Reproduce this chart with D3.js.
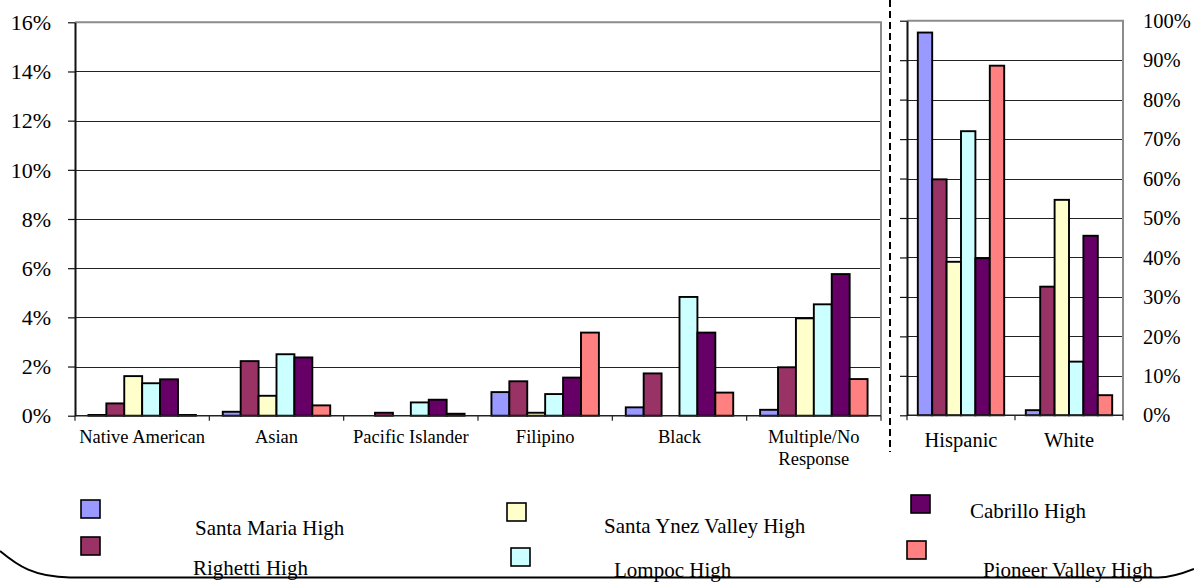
<!DOCTYPE html>
<html>
<head>
<meta charset="utf-8">
<script src="https://cdn.jsdelivr.net/npm/d3@7"></script>
<style>
  html, body { margin: 0; padding: 0; background: #fff; }
  svg { display: block; }
</style>
</head>
<body>
<svg id="chart" width="1194" height="583" font-family="Liberation Serif"></svg>
<script>
// Ethnic make-up of each high school, in percent of enrolment
const minorGroups = ["Native American", "Asian", "Pacific Islander", "Filipino", "Black", "Multiple/No Response"];
const majorGroups = ["Hispanic", "White"];
const schools = ["Santa Maria High", "Righetti High", "Santa Ynez Valley High", "Lompoc High", "Cabrillo High", "Pioneer Valley High"];
const schoolColors = ["#9999FF", "#993366", "#FFFFCC", "#CCFFFF", "#660066", "#FF8080"];

// values per school: six minor groups followed by Hispanic and White
const santaMaria   = [0.03, 0.16, 0,    0.96, 0.34, 0.24, 97.0, 1.3];
const righetti     = [0.50, 2.22, 0.12, 1.40, 1.72, 1.97, 59.8, 32.6];
const santaYnez    = [1.61, 0.81, 0,    0.12, 0,    3.96, 38.9, 54.6];
const lompoc       = [1.32, 2.50, 0.54, 0.88, 4.83, 4.53, 72.0, 13.6];
const cabrillo     = [1.48, 2.37, 0.65, 1.55, 3.38, 5.76, 39.8, 45.5];
const pioneerValley= [0.03, 0.42, 0.08, 3.38, 0.94, 1.49, 88.6, 5.1];

const leftTicks = [0, 2, 4, 6, 8, 10, 12, 14, 16];
const rightTicks = [0, 10, 20, 30, 40, 50, 60, 70, 80, 90, 100];

const seriesValues = [santaMaria, righetti, santaYnez, lompoc, cabrillo, pioneerValley];

const FONT = "Liberation Serif";
const svg = d3.select("#chart");
const pct = d => d + "%";

// Draws one clustered-bar panel
function panel(opts) {
  const { categories, values, yMax, ticks, x0, x1, yTop, yBottom } = opts;
  const g = svg.append("g");
  const x = d3.scaleBand().domain(categories).range([x0, x1]).padding(0);
  const bw = x.bandwidth();
  const gap = bw * 0.75 / 7.5;             // half of a 150% gap on each side
  const xs = d3.scaleBand().domain(d3.range(schools.length)).range([gap, bw - gap]).padding(0);
  const y = d3.scaleLinear().domain([0, yMax]).range([yBottom, yTop]);

  // gridlines
  g.append("g").selectAll("line").data(ticks.filter(t => t > 0 && t < yMax)).join("line")
    .attr("x1", x0).attr("x2", x1)
    .attr("y1", d => Math.round(y(d)) + 0.5).attr("y2", d => Math.round(y(d)) + 0.5)
    .attr("stroke", "#222").attr("stroke-width", 1);

  // plot frame top / right
  g.append("path")
    .attr("d", `M${x0},${y(yMax)}H${x1}V${yBottom}`)
    .attr("fill", "none").attr("stroke", "#8c8c8c").attr("stroke-width", 2);

  // bars
  const rows = [];
  categories.forEach((c, ci) => {
    schools.forEach((s, si) => {
      rows.push({ c, si, v: values[si][ci] });
    });
  });
  g.append("g").selectAll("rect").data(rows.filter(r => r.v > 0)).join("rect")
    .attr("x", r => x(r.c) + xs(r.si))
    .attr("width", xs.bandwidth())
    .attr("y", r => y(r.v))
    .attr("height", r => yBottom - y(r.v))
    .attr("fill", r => schoolColors[r.si])
    .attr("stroke", "#000").attr("stroke-width", 1.9);

  // category axis
  const ax = g.append("g").attr("transform", `translate(0,${yBottom})`);
  ax.append("line").attr("x1", x0).attr("x2", x1).attr("y1", 0).attr("y2", 0)
    .attr("stroke", "#222").attr("stroke-width", 1.5);
  const bounds = categories.map(c => x(c)).concat([x1]);
  ax.selectAll("line.tk").data(bounds).join("line").attr("class", "tk")
    .attr("x1", d => d).attr("x2", d => d).attr("y1", 0).attr("y2", 5)
    .attr("stroke", "#222").attr("stroke-width", 1.2);

  // value axis line + ticks on left
  const ya = d3.axisLeft(y).tickValues(ticks).tickSize(7).tickSizeOuter(0).tickFormat("");
  const yg = g.append("g").attr("transform", `translate(${x0},0)`).call(ya);
  yg.select(".domain").attr("stroke", "#111").attr("stroke-width", 2);
  yg.selectAll(".tick line").attr("stroke", "#111").attr("stroke-width", 1.2);

  return { g, x, y };
}

function label(sel, size) {
  return sel.attr("font-family", FONT).attr("font-size", size).attr("fill", "#000");
}

// left panel: smaller groups on a 0-16% scale
const left = panel({
  categories: minorGroups,
  values: seriesValues.map(v => v.slice(0, 6)),
  yMax: 16, ticks: leftTicks,
  x0: 75, x1: 881, yTop: 22.3, yBottom: 415.7
});
label(left.g.append("g").selectAll("text").data(leftTicks).join("text"), 22)
  .attr("x", 51).attr("y", d => left.y(d)).attr("dy", "0.35em")
  .attr("text-anchor", "end").text(pct);
label(left.g.append("g").selectAll("text").data(minorGroups).join("text"), 18.5)
  .attr("x", d => left.x(d) + left.x.bandwidth() / 2)
  .attr("y", 443)
  .attr("text-anchor", "middle")
  .each(function(d) {
    const t = d3.select(this);
    const parts = d === "Multiple/No Response" ? ["Multiple/No", "Response"] : [d];
    parts.forEach((p, i) => t.append("tspan").attr("x", left.x(d) + left.x.bandwidth() / 2)
      .attr("dy", i === 0 ? 0 : 22).text(p));
  });

// right panel: Hispanic and White on a 0-100% scale
const right = panel({
  categories: majorGroups,
  values: seriesValues.map(v => v.slice(6)),
  yMax: 100, ticks: rightTicks,
  x0: 907, x1: 1123, yTop: 20.7, yBottom: 415.3
});
label(right.g.append("g").selectAll("text").data(rightTicks).join("text"), 20.5)
  .attr("x", 1143).attr("y", d => right.y(d)).attr("dy", "0.35em")
  .attr("text-anchor", "start").text(pct);
label(right.g.append("g").selectAll("text").data(majorGroups).join("text"), 20.5)
  .attr("x", d => right.x(d) + right.x.bandwidth() / 2)
  .attr("y", 447)
  .attr("text-anchor", "middle").text(d => d);

// dashed divider between the two panels
svg.append("line").attr("x1", 890).attr("x2", 890).attr("y1", 0).attr("y2", 452)
  .attr("stroke", "#000").attr("stroke-width", 2).attr("stroke-dasharray", "7,4");

// legend
const legendLayout = [
  { sx: 81,  sy: 500, tx: 195, ty: 535 },
  { sx: 81,  sy: 537, tx: 193, ty: 575 },
  { sx: 507, sy: 503, tx: 604, ty: 533 },
  { sx: 511, sy: 548, tx: 614, ty: 577 },
  { sx: 911, sy: 495, tx: 970, ty: 518 },
  { sx: 907, sy: 541, tx: 983, ty: 577 }
];
const legend = svg.append("g");
legend.selectAll("rect").data(schools).join("rect")
  .attr("x", (d, i) => legendLayout[i].sx).attr("y", (d, i) => legendLayout[i].sy)
  .attr("width", 19).attr("height", 18)
  .attr("fill", (d, i) => schoolColors[i]).attr("stroke", "#000").attr("stroke-width", 1.6);
label(legend.selectAll("text").data(schools).join("text"), 21)
  .attr("x", (d, i) => legendLayout[i].tx).attr("y", (d, i) => legendLayout[i].ty)
  .text(d => d);

// rounded lower edge of the legend frame
svg.append("path")
  .attr("d", "M0,551 C18,566 34,577 70,577.5 L1158,577.5 C1172,577.5 1184,573 1194,569")
  .attr("fill", "none").attr("stroke", "#000").attr("stroke-width", 2);
</script>
</body>
</html>
